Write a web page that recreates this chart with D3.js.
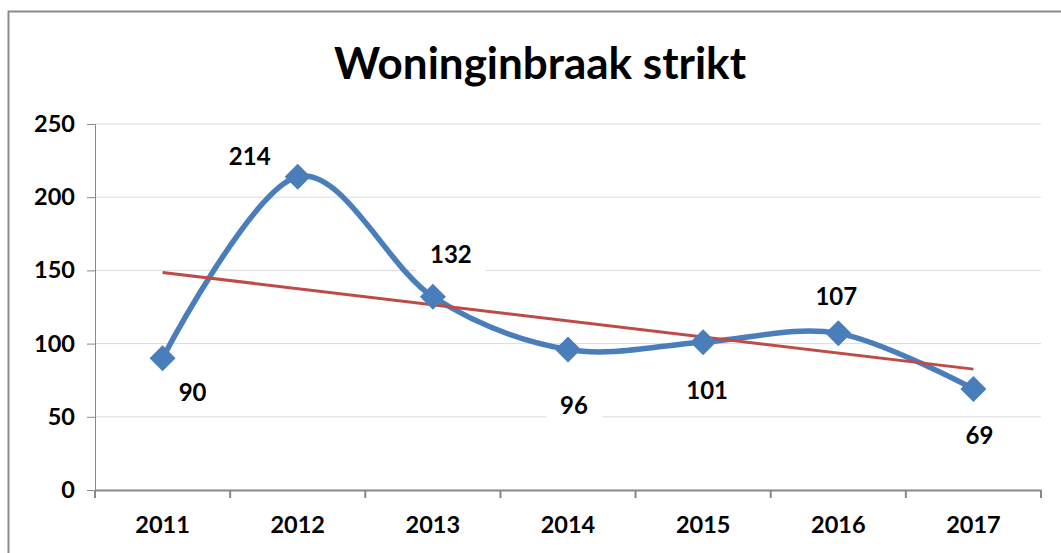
<!DOCTYPE html>
<html>
<head>
<meta charset="utf-8">
<script src="https://cdn.jsdelivr.net/npm/d3@7"></script>
<style>
  body { margin: 0; background: #fff; }
  svg { display: block; font-family: Lato, "Open Sans", sans-serif; }
</style>
</head>
<body>
<script>
// data
var years = ["2011", "2012", "2013", "2014", "2015", "2016", "2017"];
var values = [90, 214, 132, 96, 101, 107, 69];
var yTicks = [0, 50, 100, 150, 200, 250];
// label centre offset from point: [dx, dy]
var labelPos = [[30, 34], [-48, -20], [18, -42], [6, 56], [4, 48], [-2, -37], [6, 46]];

var W = 1061, H = 553;
var margin = {top: 124, left: 95},
    width = 1041 - margin.left,
    height = 490 - margin.top;

var svg = d3.select("body").append("svg")
    .attr("width", W)
    .attr("height", H);

// chart border (cropped at the right / bottom)
svg.append("rect")
    .attr("x", 8.5).attr("y", 11.5)
    .attr("width", W + 20).attr("height", H + 20)
    .attr("fill", "none")
    .attr("stroke", "#8c8c8c")
    .attr("stroke-width", 2);

svg.append("text")
    .attr("x", 540).attr("y", 79)
    .attr("text-anchor", "middle")
    .attr("font-size", 44)
    .attr("font-weight", "bold")
    .text("Woninginbraak strikt");

var g = svg.append("g")
    .attr("transform", "translate(" + margin.left + "," + margin.top + ")");

var x = d3.scaleBand().domain(years).range([0, width]);
var y = d3.scaleLinear().domain([0, 250]).range([height, 0]);
var cx = function(i) { return x(years[i]) + x.bandwidth() / 2; };

// gridlines
g.selectAll(".grid")
  .data(yTicks.slice(1))
  .enter().append("line")
    .attr("x1", 0).attr("x2", width)
    .attr("y1", function(d) { return y(d); })
    .attr("y2", function(d) { return y(d); })
    .attr("stroke", "#dcdcdc")
    .attr("stroke-width", 1);

// y axis
var yAxis = g.append("g")
    .call(d3.axisLeft(y).tickValues(yTicks).tickSize(8).tickPadding(12));
yAxis.select(".domain").attr("stroke", "#888");
yAxis.selectAll(".tick line").attr("stroke", "#888");
yAxis.selectAll("text").attr("font-size", 23.5).attr("font-weight", "bold")
    .attr("fill", "#000").attr("font-family", "Lato, sans-serif");

// x axis with ticks between categories
var xAxis = g.append("g")
    .attr("transform", "translate(0," + height + ")")
    .call(d3.axisBottom(x).tickSize(0).tickPadding(26));
xAxis.select(".domain").attr("stroke", "#888").attr("stroke-width", 2);
xAxis.selectAll("text").attr("font-size", 23.5).attr("font-weight", "bold")
    .attr("fill", "#000").attr("font-family", "Lato, sans-serif");
xAxis.selectAll(".sep")
  .data(d3.range(years.length + 1))
  .enter().append("line")
    .attr("x1", function(i) { return i * x.bandwidth(); })
    .attr("x2", function(i) { return i * x.bandwidth(); })
    .attr("y1", 0).attr("y2", 8)
    .attr("stroke", "#888")
    .attr("stroke-width", 2);

// smoothed series line
var line = d3.line()
    .x(function(d, i) { return cx(i); })
    .y(function(d) { return y(d); })
    .curve(d3.curveCardinal.tension(0));

g.append("path")
    .datum(values)
    .attr("d", line)
    .attr("fill", "none")
    .attr("stroke", "#4a7ebb")
    .attr("stroke-width", 5.5);

// linear trendline
var n = values.length;
var mx = d3.mean(d3.range(n)), my = d3.mean(values);
var slope = d3.sum(values, function(v, i) { return (i - mx) * (v - my); }) /
            d3.sum(d3.range(n), function(i) { return (i - mx) * (i - mx); });
var icpt = my - slope * mx;
g.append("line")
    .attr("x1", cx(0)).attr("y1", y(icpt))
    .attr("x2", cx(n - 1)).attr("y2", y(icpt + slope * (n - 1)))
    .attr("stroke", "#be4b48")
    .attr("stroke-width", 3);

// diamond markers
g.selectAll(".marker")
  .data(values)
  .enter().append("path")
    .attr("d", "M0,-13L13,0L0,13L-13,0Z")
    .attr("transform", function(d, i) { return "translate(" + cx(i) + "," + y(d) + ")"; })
    .attr("fill", "#4a7ebb");

// data labels with white background
var lbl = g.selectAll(".lbl")
  .data(values)
  .enter().append("g")
    .attr("transform", function(d, i) {
      return "translate(" + (cx(i) + labelPos[i][0]) + "," + (y(d) + labelPos[i][1]) + ")";
    });
lbl.append("rect")
    .attr("x", function(d) { return -String(d).length * 7 - 14; })
    .attr("y", -17)
    .attr("width", function(d) { return String(d).length * 14 + 28; })
    .attr("height", 34)
    .attr("fill", "#fff");
lbl.append("text")
    .attr("text-anchor", "middle")
    .attr("dy", "0.36em")
    .attr("font-size", 24)
    .attr("font-weight", "bold")
    .text(function(d) { return d; });
</script>
</body>
</html>
